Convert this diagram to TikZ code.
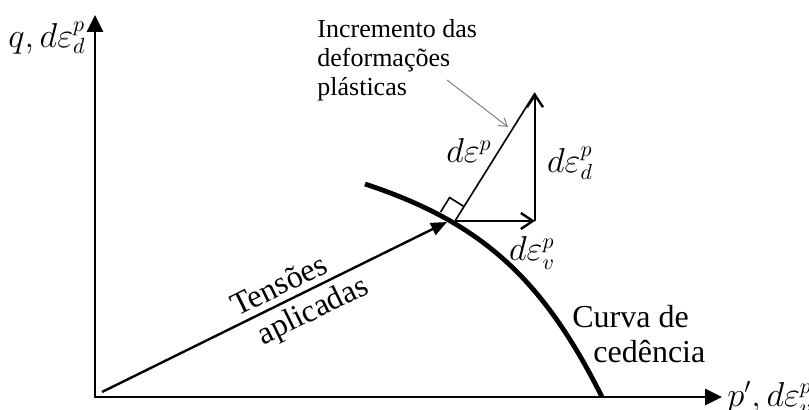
\documentclass[tikz,border=0pt]{standalone}
\usepackage{fontspec}
\setmainfont{Liberation Serif}
\usetikzlibrary{arrows.meta, calc}

\begin{document}
\begin{tikzpicture}[x=0.5pt, y=0.5pt,
  axis/.style={{Triangle[length=8.5pt,width=8pt]}-{Triangle[length=8.5pt,width=8pt]},line width=1.4pt},
  vec/.style={-{Straight Barb[length=6pt,width=8pt]},line width=1.2pt},
  load/.style={-{Triangle[length=8pt,width=6.5pt]},line width=1.2pt},
  lead/.style={-{Straight Barb[length=4pt,width=5pt]},gray,line width=0.5pt},
  lbl/.style={font=\fontsize{16}{17.5}\selectfont,inner sep=0pt},
  mlbl/.style={font=\fontsize{16}{19}\selectfont,inner sep=0pt}
]
\useasboundingbox (0,0) rectangle (809,410);

% Axes
\coordinate (O)    at (95,13);
\coordinate (Ytip) at (95,395);
\coordinate (Xtip) at (722,13);
\draw[axis] (Ytip) -- (O) -- (Xtip);
\node[mlbl,anchor=east] (qlab) at (86,372) {$q, d\varepsilon_d^p$};
\node[mlbl,anchor=west] (plab) at (727,12) {$p', d\varepsilon_v^p$};

% Applied stress path
\coordinate (S0) at (102,18);
\coordinate (T)  at (447,188);
\draw[load] (S0) -- node[lbl,pos=0.535,sloped,above=3pt] (tens) {Tensões}
                    node[lbl,pos=0.585,sloped,below=3pt] (apl) {aplicadas} (T);

% Yield curve
\draw[line width=2.4pt] (365,226) .. controls (480,188) and (542,133) .. (602,13);
\node[lbl,align=left,anchor=north west] (curva) at (572,105) {Curva de\\\hspace*{10.5pt}cedência};

% Plastic strain increment
\coordinate (F) at (455,189);
\coordinate (P) at (535,317);
\coordinate (Q) at (535,189);
\draw[line width=0.8pt] (F) -- (P);
\draw[vec] (F) -- (Q);
\draw[vec] (Q) -- (P);
\coordinate (ra1) at ($(F)!8.5pt!90:(P)$);
\coordinate (ra2) at ($(F)!8.5pt!(P)$);
\draw[line width=0.8pt] (ra1) -- ($(ra1)+(ra2)-(F)$) -- (ra2);
\node[mlbl] (dep)  at (469,259) {$d\varepsilon^p$};
\node[mlbl] (depd) at (570,247) {$d\varepsilon_d^p$};
\node[mlbl] (depv) at (532,157) {$d\varepsilon_v^p$};

% Note
\node[font=\fontsize{13}{14.5}\selectfont,align=left,anchor=north west,inner sep=0pt] (incr)
  at (317,391) {Incremento das\\deformações\\plásticas};
\coordinate (L0) at (447,330);
\coordinate (L1) at (508,283);
\draw[lead] (L0) -- (L1);
\end{tikzpicture}
\end{document}
